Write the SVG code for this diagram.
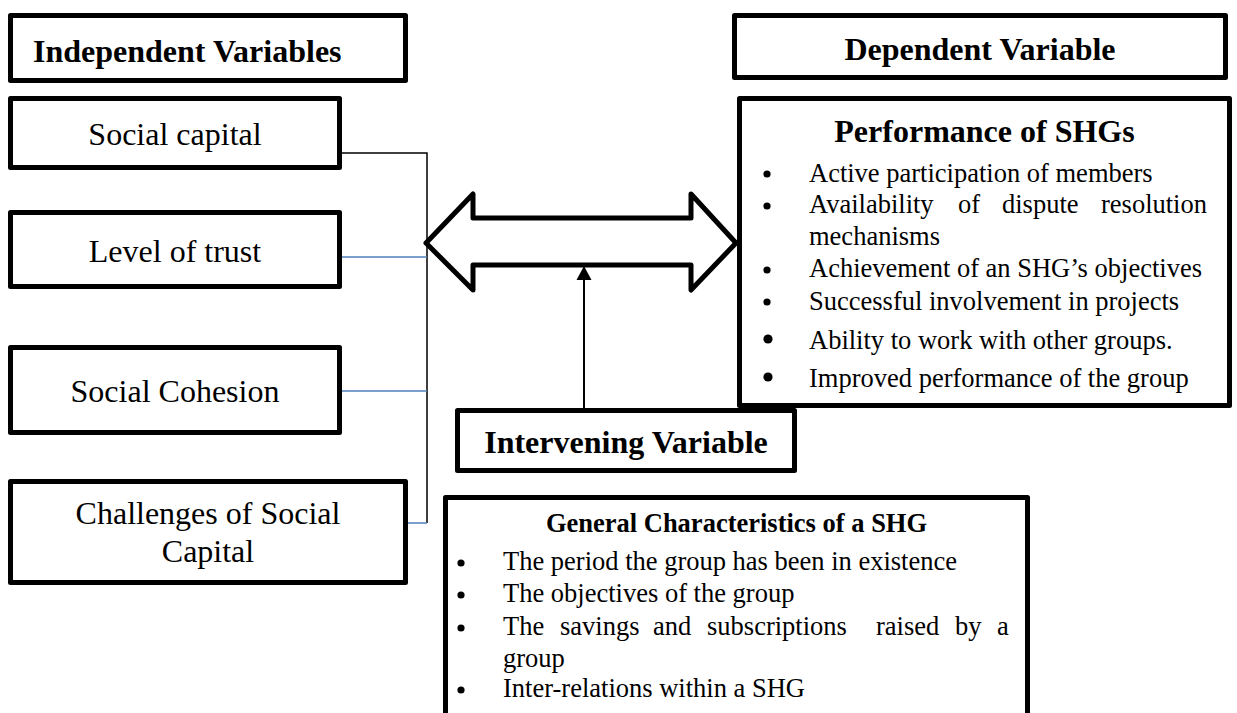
<svg xmlns="http://www.w3.org/2000/svg" width="1237" height="713" viewBox="0 0 1237 713">
<style>
.box{fill:#fff;stroke:#000;stroke-width:5;stroke-linejoin:round}
.h{font-family:"Liberation Serif","Times New Roman",serif;font-weight:bold;font-size:32px;fill:#000}
.t{font-family:"Liberation Serif","Times New Roman",serif;font-size:32px;fill:#000}
.b{font-family:"Liberation Serif","Times New Roman",serif;font-size:26.5px;fill:#000}
.hb{font-family:"Liberation Serif","Times New Roman",serif;font-weight:bold;font-size:26.5px;fill:#000}
.blk{stroke:#000;stroke-width:1.5;fill:none}
.blu{stroke:#4f81bd;stroke-width:1.5;fill:none}
</style>
<rect width="1237" height="713" fill="#fff"/>
<g id="connectors">
<path class="blk" d="M342,153 H427 V523"/>
<path class="blu" d="M342,257 H427"/>
<path class="blu" d="M342,391 H427"/>
<path class="blu" d="M408,523 H427"/>
<polygon points="426,243 473,194 473,218 691,218 691,194 736,243 691,290 691,265 473,265 473,290" fill="#fff" stroke="#000" stroke-width="5" stroke-linejoin="round"/>
<line x1="584" y1="408" x2="584" y2="279" stroke="#000" stroke-width="2"/>
<polygon points="584,266 576.5,280 591.5,280" fill="#000"/>
</g>
<g id="independent-header">
<rect class="box" x="10.5" y="15.5" width="395" height="65"/>
<text class="h" x="33" y="62">Independent Variables</text>
</g>
<g id="social-capital">
<rect class="box" x="10.5" y="98.5" width="329" height="69"/>
<text class="t" x="175" y="145" text-anchor="middle">Social capital</text>
</g>
<g id="level-of-trust">
<rect class="box" x="10.5" y="212.5" width="329" height="74"/>
<text class="t" x="175" y="262" text-anchor="middle">Level of trust</text>
</g>
<g id="social-cohesion">
<rect class="box" x="10.5" y="347.5" width="329" height="85"/>
<text class="t" x="175" y="402" text-anchor="middle">Social Cohesion</text>
</g>
<g id="challenges">
<rect class="box" x="10.5" y="481.5" width="395" height="101"/>
<text class="t" x="208" y="524" text-anchor="middle">Challenges of Social</text>
<text class="t" x="208" y="562" text-anchor="middle">Capital</text>
</g>
<g id="dependent-header">
<rect class="box" x="734.5" y="15.5" width="491" height="62"/>
<text class="h" x="980" y="60" text-anchor="middle">Dependent Variable</text>
</g>
<g id="performance">
<rect class="box" x="739.5" y="98.5" width="490" height="307"/>
<text class="h" x="984.5" y="142" text-anchor="middle">Performance of SHGs</text>
<g fill="#000">
<circle cx="767" cy="174" r="3.6"/>
<circle cx="767" cy="206" r="3.6"/>
<circle cx="767" cy="270" r="3.6"/>
<circle cx="767" cy="302" r="3.6"/>
<circle cx="768" cy="339" r="4.6"/>
<circle cx="768" cy="377" r="4.6"/>
</g>
<text class="b" x="809" y="182">Active participation of members</text>
<text class="b" y="213"><tspan x="809">Availability</tspan><tspan x="958">of</tspan><tspan x="1002">dispute</tspan><tspan x="1101">resolution</tspan></text>
<text class="b" x="809" y="245">mechanisms</text>
<text class="b" x="809" y="277">Achievement of an SHG’s objectives</text>
<text class="b" x="809" y="310">Successful involvement in projects</text>
<text class="b" x="809" y="349">Ability to work with other groups.</text>
<text class="b" x="809" y="387">Improved performance of the group</text>
</g>
<g id="intervening-header">
<rect class="box" x="457.5" y="410.5" width="337" height="60"/>
<text class="h" x="626" y="453" text-anchor="middle">Intervening Variable</text>
</g>
<g id="general-characteristics">
<rect class="box" x="445.5" y="497.5" width="582" height="240"/>
<text class="hb" x="736.5" y="532" text-anchor="middle">General Characteristics of a SHG</text>
<g fill="#000">
<circle cx="461" cy="563" r="3.6"/>
<circle cx="461" cy="595" r="3.6"/>
<circle cx="461" cy="628" r="3.6"/>
<circle cx="461" cy="690" r="3.6"/>
</g>
<text class="b" x="503" y="570">The period the group has been in existence</text>
<text class="b" x="503" y="602">The objectives of the group</text>
<text class="b" y="635"><tspan x="503">The</tspan><tspan x="560">savings</tspan><tspan x="653">and</tspan><tspan x="707">subscriptions</tspan><tspan x="876">raised</tspan><tspan x="955">by</tspan><tspan x="997">a</tspan></text>
<text class="b" x="503" y="667">group</text>
<text class="b" x="503" y="697">Inter-relations within a SHG</text>
</g>
</svg>
